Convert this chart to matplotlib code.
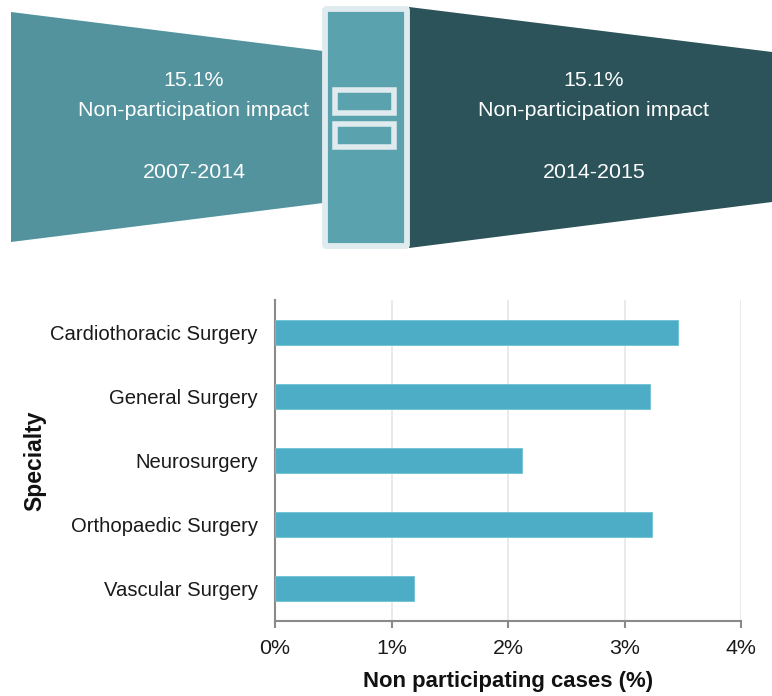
import matplotlib
matplotlib.use("Agg")
import matplotlib.pyplot as plt
from matplotlib.patches import Polygon, Rectangle, FancyBboxPatch

plt.rcParams['font.family'] = ['Liberation Sans', 'DejaVu Sans']

specialties = ["Cardiothoracic Surgery", "General Surgery", "Neurosurgery",
               "Orthopaedic Surgery", "Vascular Surgery"]
non_participating = [3.46, 3.22, 2.12, 3.24, 1.19]
x_ticks = [0, 1, 2, 3, 4]
x_labels = ["0%", "1%", "2%", "3%", "4%"]
left_lines = ["15.1%", "Non-participation impact", "2007-2014"]
right_lines = ["15.1%", "Non-participation impact", "2014-2015"]

W, H = 772, 696
fig = plt.figure(figsize=(W / 100, H / 100), dpi=100)

# Diagram layer in pixel coordinates
bg = fig.add_axes([0, 0, 1, 1])
bg.set_xlim(0, W)
bg.set_ylim(H, 0)
bg.axis("off")
bg.add_patch(Polygon([(11, 12), (323, 51), (323, 203), (11, 242)], fc="#53939D", ec="none"))
bg.add_patch(Polygon([(409, 7), (772, 52), (772, 202), (409, 248)], fc="#2B5359", ec="none"))
bg.add_patch(FancyBboxPatch((325, 9), 82, 237, boxstyle="round,pad=0,rounding_size=1.5",
                            fc="#5BA2AF", ec="#DFEBEE", lw=4.2))
for y in (90, 124):
    bg.add_patch(Rectangle((335, y), 59, 23, fc="#5BA2AF", ec="#DFEBEE", lw=4.0))

for cx, lines in ((194, left_lines), (594, right_lines)):
    for y, s in zip((81, 111, 172), lines):
        bg.text(cx, y, s, color="white", fontsize=15.4, ha="center", va="center")

# Bar chart
x0, x1, y0, y1 = 275, 741, 300.5, 620.5
ax = fig.add_axes([x0 / W, 1 - y1 / H, (x1 - x0) / W, (y1 - y0) / H])
ypos = list(range(len(specialties)))
ax.barh(ypos, non_participating, height=0.39, color="#4DADC6", edgecolor="#6FC0D4", linewidth=0.6, zorder=3)
ax.set_xlim(0, 4)
ax.set_ylim(len(specialties) - 0.5, -0.5)
ax.set_yticks(ypos, specialties, fontsize=14.6, color="#1a1a1a")
ax.set_xticks(x_ticks, x_labels, fontsize=15.4, color="#1a1a1a")
ax.tick_params(axis="y", length=0, pad=12.5)
ax.tick_params(axis="x", length=5, width=1.5, color="#8a8a8a", pad=8, direction="out")
ax.xaxis.grid(True, color="#E6E6E6", lw=1.2, zorder=0)
ax.set_axisbelow(True)
for s in ("top", "right"):
    ax.spines[s].set_visible(False)
for s in ("left", "bottom"):
    ax.spines[s].set_color("#8a8a8a")
    ax.spines[s].set_linewidth(1.5)
ax.set_xlabel("Non participating cases (%)", fontsize=15.9, fontweight="bold", color="#111111")
ax.xaxis.set_label_coords((508 - x0) / (x1 - x0), -(682 - y1) / (y1 - y0), transform=ax.transAxes)
ax.xaxis.label.set_va("center")
ax.set_ylabel("Specialty", fontsize=16.5, fontweight="bold", color="#111111")
ax.yaxis.set_label_coords(-(275 - 35) / (x1 - x0), (y1 - 461) / (y1 - y0), transform=ax.transAxes)
ax.yaxis.label.set_va("center")

fig.savefig("out.png", dpi=100)
